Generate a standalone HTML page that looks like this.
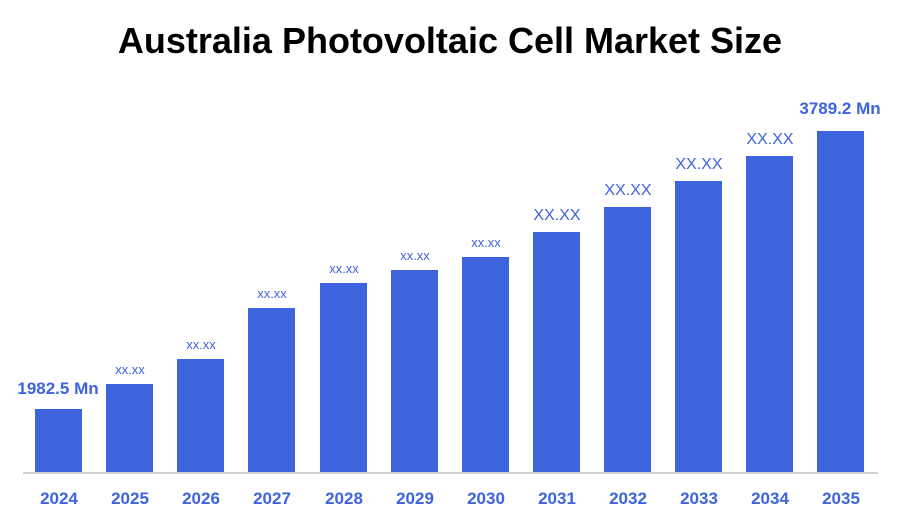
<!DOCTYPE html>
<html><head><style>
body{margin:0;background:#fff;width:900px;height:525px;overflow:hidden;font-family:"Liberation Sans",sans-serif;position:relative}
.t{position:absolute;left:0;width:900px;top:20px;text-align:center;font-size:36px;font-weight:bold;color:#000}
.b{position:absolute;background:#3d63dd;width:47px}
.l{position:absolute;width:120px;text-align:center;color:#3d63dd;font-size:13px}
.y{position:absolute;width:80px;text-align:center;color:#3d63dd;font-size:17px;font-weight:bold;top:489px}
.ax{position:absolute;left:23px;width:855px;top:472px;height:2px;background:#d0d0d0}
</style></head><body>
<div class="t">Australia Photovoltaic Cell Market Size</div>
<div class="ax"></div>
<div id="c"></div>
<script>
var xs=[35,106,177,248,320,391,462,533,604,675,746,817],tops=[409,384,359,308,283,270,257,232,207,181,156,131];
var labs=["","xx.xx","xx.xx","xx.xx","xx.xx","xx.xx","xx.xx","XX.XX","XX.XX","XX.XX","XX.XX",""];
var h="";
for(var i=0;i<12;i++){
h+='<div class="b" style="left:'+xs[i]+'px;top:'+tops[i]+'px;height:'+(472-tops[i])+'px"></div>';
h+='<div class="y" style="left:'+(xs[i]-16)+'px">'+(2024+i)+'</div>';
if(labs[i]){var big=labs[i]=="XX.XX";h+='<div class="l" style="left:'+(xs[i]-36)+'px;top:'+(tops[i]-(big?25:22))+'px;font-size:'+(big?16:13)+'px">'+labs[i]+'</div>';}
}
h+='<div class="l" style="left:-2px;top:379px;font-size:17px;font-weight:bold">1982.5 Mn</div>';
h+='<div class="l" style="left:780px;top:99px;font-size:17px;font-weight:bold">3789.2 Mn</div>';
document.getElementById("c").innerHTML=h;
</script>
</body></html>
